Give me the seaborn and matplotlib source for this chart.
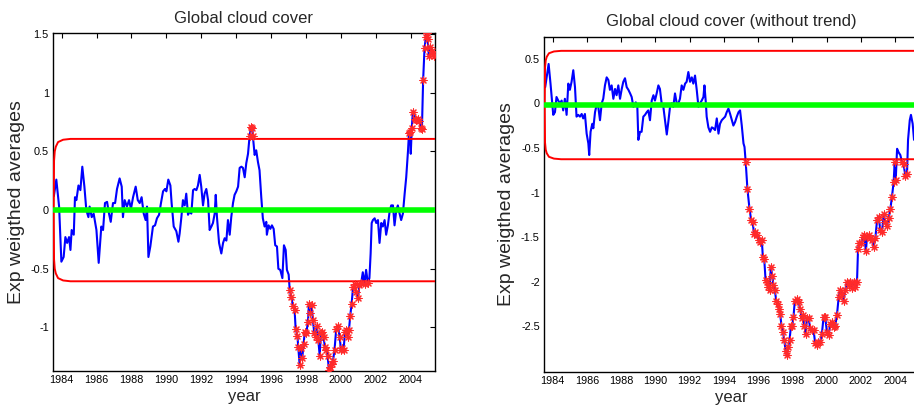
import numpy as np
import pandas as pd
import matplotlib
matplotlib.use("Agg")
import matplotlib.pyplot as plt
from matplotlib.ticker import FuncFormatter
import seaborn as sns

# ---------------- data ----------------
left_years = [1983.55, 1983.69, 1983.85, 1983.98, 1984.11, 1984.21, 1984.31, 1984.42, 1984.50, 1984.57,
              1984.69, 1984.76, 1984.84, 1984.96, 1985.07, 1985.18, 1985.30, 1985.41, 1985.53, 1985.60,
              1985.72, 1985.83, 1985.99, 1986.12, 1986.27, 1986.37, 1986.48, 1986.60, 1986.71, 1986.81,
              1986.94, 1987.06, 1987.17, 1987.32, 1987.44, 1987.51, 1987.61, 1987.74, 1987.86, 1987.97,
              1988.09, 1988.24, 1988.36, 1988.47, 1988.58, 1988.70, 1988.81, 1988.89, 1988.97, 1989.08,
              1989.23, 1989.35, 1989.46, 1989.58, 1989.69, 1989.81, 1989.92, 1990.00, 1990.11, 1990.23,
              1990.30, 1990.42, 1990.57, 1990.69, 1990.76, 1990.86, 1990.95, 1991.05, 1991.14, 1991.24,
              1991.34, 1991.43, 1991.53, 1991.62, 1991.72, 1991.81, 1991.91, 1992.00, 1992.10, 1992.19,
              1992.29, 1992.39, 1992.48, 1992.58, 1992.67, 1992.77, 1992.83, 1992.90, 1993.02, 1993.15,
              1993.25, 1993.34, 1993.44, 1993.53, 1993.63, 1993.72, 1993.82, 1993.91, 1994.01, 1994.11,
              1994.20, 1994.30, 1994.39, 1994.49, 1994.58, 1994.68, 1994.77, 1994.85, 1994.93, 1994.96,
              1995.06, 1995.15, 1995.25, 1995.34, 1995.44, 1995.53, 1995.63, 1995.73, 1995.76, 1995.86,
              1995.96, 1996.05, 1996.15, 1996.24, 1996.34, 1996.42, 1996.53, 1996.65, 1996.74, 1996.84,
              1996.91, 1997.01, 1997.07, 1997.16, 1997.26, 1997.35, 1997.41, 1997.51, 1997.56, 1997.64,
              1997.73, 1997.79, 1997.87, 1997.93, 1998.02, 1998.12, 1998.17, 1998.25, 1998.33, 1998.40,
              1998.48, 1998.56, 1998.63, 1998.71, 1998.79, 1998.86, 1998.94, 1999.01, 1999.09, 1999.17,
              1999.24, 1999.32, 1999.40, 1999.47, 1999.55, 1999.64, 1999.74, 1999.84, 1999.93, 2000.01,
              2000.08, 2000.16, 2000.24, 2000.31, 2000.39, 2000.47, 2000.54, 2000.62, 2000.70, 2000.79,
              2000.88, 2000.98, 2001.07, 2001.17, 2001.26, 2001.36, 2001.45, 2001.55, 2001.64, 2001.71,
              2001.77, 2001.84, 2001.94, 2002.03, 2002.13, 2002.22, 2002.32, 2002.41, 2002.51, 2002.60,
              2002.70, 2002.80, 2002.89, 2002.99, 2003.08, 2003.18, 2003.27, 2003.37, 2003.46, 2003.56,
              2003.66, 2003.75, 2003.85, 2003.91, 2003.96, 2004.01, 2004.07, 2004.13, 2004.23, 2004.32,
              2004.42, 2004.50, 2004.57, 2004.65, 2004.72, 2004.80, 2004.88, 2004.92, 2004.98, 2005.05,
              2005.13, 2005.20, 2005.27, 2005.35]
left_values = [0.12, 0.26, 0.03, -0.44, -0.40, -0.23, -0.28, -0.23, -0.34, -0.17,
               -0.21, 0.11, 0.085, 0.21, 0.17, 0.37, 0.20, 0.0, -0.06, 0.03,
               -0.06, -0.03, -0.17, -0.45, -0.14, -0.17, 0.06, 0.07, -0.03, -0.10,
               0.06, 0.06, 0.18, 0.27, 0.20, -0.06, 0.085, 0.03, 0.085, 0.01,
               0.11, 0.20, 0.085, 0.06, 0.11, -0.03, -0.085, 0.03, -0.40, -0.31,
               -0.14, -0.13, -0.07, -0.04, 0.06, 0.16, 0.18, 0.16, 0.26, 0.21,
               0.06, -0.14, -0.18, -0.27, -0.20, -0.06, 0.085, 0.04, 0.14, -0.04,
               -0.01, -0.03, 0.17, 0.18, 0.17, 0.21, 0.30, 0.20, 0.04, 0.14,
               0.18, 0.085, -0.17, -0.14, -0.11, -0.03, 0.13, -0.06, -0.28, -0.37,
               -0.28, -0.24, -0.26, -0.085, -0.21, -0.06, 0.06, 0.13, 0.16, 0.20,
               0.36, 0.37, 0.36, 0.28, 0.40, 0.48, 0.63, 0.71, 0.70, 0.63,
               0.47, 0.51, 0.41, 0.34, 0.11, -0.07, -0.14, -0.10, -0.21, -0.13,
               -0.16, -0.13, -0.16, -0.30, -0.31, -0.50, -0.51, -0.58, -0.30, -0.34,
               -0.51, -0.55, -0.68, -0.74, -0.82, -0.85, -1.01, -1.07, -1.17, -1.32,
               -1.18, -1.26, -1.14, -1.04, -1.05, -0.95, -0.80, -0.88, -0.81, -0.94,
               -1.05, -1.08, -0.99, -1.11, -1.24, -1.05, -1.04, -1.08, -1.17, -1.19,
               -1.24, -1.36, -1.34, -1.31, -1.29, -1.19, -1.01, -0.99, -1.08, -1.19,
               -1.18, -1.19, -1.04, -1.02, -1.08, -1.02, -0.90, -0.80, -0.66, -0.63,
               -0.70, -0.75, -0.64, -0.62, -0.53, -0.63, -0.51, -0.62, -0.58, -0.37,
               -0.11, -0.085, -0.07, -0.11, -0.085, -0.28, -0.11, -0.14, -0.085, -0.21,
               -0.13, -0.01, 0.04, 0.04, -0.13, 0.0, 0.04, -0.03, -0.085, -0.03,
               0.14, 0.28, 0.50, 0.66, 0.67, 0.48, 0.70, 0.84, 0.78, 0.77,
               0.78, 0.76, 0.70, 0.69, 1.11, 1.38, 1.48, 1.51, 1.46, 1.31,
               1.39, 1.36, 1.33, 1.31]

right_years = [1983.57, 1983.77, 1983.88, 1984.04, 1984.14, 1984.23, 1984.33, 1984.43, 1984.53, 1984.62,
               1984.72, 1984.82, 1984.92, 1985.01, 1985.11, 1985.21, 1985.31, 1985.40, 1985.50, 1985.60,
               1985.70, 1985.79, 1985.89, 1985.99, 1986.09, 1986.14, 1986.22, 1986.32, 1986.38, 1986.48,
               1986.57, 1986.67, 1986.77, 1986.87, 1986.96, 1987.06, 1987.16, 1987.26, 1987.35, 1987.45,
               1987.55, 1987.65, 1987.74, 1987.84, 1987.94, 1988.04, 1988.13, 1988.23, 1988.33, 1988.43,
               1988.53, 1988.62, 1988.72, 1988.86, 1988.95, 1989.01, 1989.11, 1989.20, 1989.30, 1989.40,
               1989.50, 1989.59, 1989.69, 1989.79, 1989.89, 1989.98, 1990.08, 1990.18, 1990.27, 1990.37,
               1990.47, 1990.57, 1990.67, 1990.76, 1990.86, 1990.96, 1991.05, 1991.15, 1991.25, 1991.35,
               1991.44, 1991.54, 1991.64, 1991.74, 1991.83, 1991.93, 1992.03, 1992.13, 1992.22, 1992.32,
               1992.42, 1992.52, 1992.61, 1992.71, 1992.81, 1992.87, 1992.95, 1993.00, 1993.10, 1993.20,
               1993.30, 1993.39, 1993.49, 1993.59, 1993.69, 1993.78, 1993.88, 1993.98, 1994.08, 1994.17,
               1994.27, 1994.37, 1994.47, 1994.56, 1994.66, 1994.76, 1994.86, 1994.95, 1995.05, 1995.15,
               1995.21, 1995.28, 1995.38, 1995.50, 1995.60, 1995.68, 1995.77, 1995.85, 1995.93, 1996.03,
               1996.13, 1996.22, 1996.28, 1996.36, 1996.44, 1996.52, 1996.59, 1996.67, 1996.75, 1996.83,
               1996.90, 1996.98, 1997.06, 1997.14, 1997.22, 1997.29, 1997.37, 1997.45, 1997.53, 1997.61,
               1997.68, 1997.76, 1997.84, 1997.92, 1998.00, 1998.07, 1998.15, 1998.27, 1998.37, 1998.46,
               1998.54, 1998.62, 1998.70, 1998.78, 1998.85, 1998.95, 1999.05, 1999.15, 1999.24, 1999.34,
               1999.44, 1999.53, 1999.63, 1999.73, 1999.83, 1999.92, 2000.02, 2000.12, 2000.22, 2000.31,
               2000.41, 2000.51, 2000.61, 2000.71, 2000.80, 2000.90, 2001.00, 2001.09, 2001.19, 2001.29,
               2001.39, 2001.48, 2001.58, 2001.68, 2001.78, 2001.84, 2001.91, 2002.01, 2002.11, 2002.20,
               2002.30, 2002.36, 2002.46, 2002.56, 2002.65, 2002.75, 2002.85, 2002.95, 2003.04, 2003.14,
               2003.24, 2003.34, 2003.43, 2003.53, 2003.63, 2003.73, 2003.82, 2003.92, 2003.98, 2004.04,
               2004.12, 2004.21, 2004.31, 2004.41, 2004.50, 2004.60, 2004.70, 2004.76, 2004.86, 2004.93,
               2005.03, 2005.11]
right_values = [0.18, 0.44, 0.22, -0.13, -0.10, 0.07, 0.03, 0.0, 0.03, -0.08,
                0.05, -0.13, 0.22, 0.15, 0.24, 0.37, 0.18, -0.15, -0.13, -0.15,
                -0.12, -0.17, -0.12, -0.34, -0.45, -0.58, -0.32, -0.23, -0.28, -0.10,
                -0.02, -0.04, -0.19, 0.0, 0.05, 0.20, 0.29, 0.26, 0.15, 0.20,
                0.05, 0.16, 0.09, 0.20, 0.05, 0.16, 0.24, 0.28, 0.18, 0.15,
                0.11, 0.07, -0.04, 0.01, -0.04, -0.41, -0.32, -0.32, -0.15, -0.13,
                -0.10, -0.08, -0.19, 0.03, 0.09, 0.03, 0.11, 0.20, 0.16, 0.0,
                -0.04, -0.20, -0.35, -0.21, -0.04, 0.0, -0.04, 0.11, 0.0, 0.0,
                0.05, 0.20, 0.15, 0.22, 0.24, 0.35, 0.24, 0.29, 0.22, 0.31,
                0.15, -0.04, 0.0, 0.03, 0.07, 0.20, 0.01, -0.15, -0.27, -0.32,
                -0.27, -0.28, -0.30, -0.17, -0.34, -0.23, -0.19, -0.17, -0.15, -0.10,
                -0.06, -0.12, -0.19, -0.25, -0.21, -0.15, -0.10, -0.08, -0.25, -0.45,
                -0.49, -0.66, -0.96, -1.18, -1.31, -1.33, -1.46, -1.44, -1.48, -1.53,
                -1.55, -1.53, -1.72, -1.74, -1.98, -2.00, -2.06, -2.09, -1.83, -1.93,
                -2.04, -2.09, -2.21, -2.25, -2.30, -2.36, -2.49, -2.56, -2.65, -2.77,
                -2.82, -2.73, -2.65, -2.50, -2.49, -2.39, -2.21, -2.19, -2.23, -2.30,
                -2.41, -2.37, -2.49, -2.58, -2.41, -2.41, -2.52, -2.54, -2.54, -2.69,
                -2.71, -2.67, -2.67, -2.58, -2.39, -2.39, -2.56, -2.60, -2.47, -2.45,
                -2.51, -2.49, -2.37, -2.17, -2.09, -2.14, -2.21, -2.09, -2.00, -2.04,
                -2.00, -2.07, -2.00, -2.06, -2.00, -1.63, -1.57, -1.57, -1.50, -1.48,
                -1.66, -1.50, -1.48, -1.51, -1.53, -1.61, -1.51, -1.31, -1.27, -1.42,
                -1.44, -1.24, -1.33, -1.37, -1.29, -1.18, -1.05, -0.88, -0.66, -0.86,
                -0.51, -0.55, -0.58, -0.66, -0.68, -0.81, -0.79, -0.41, -0.19, -0.13,
                -0.23, -0.41]

# control-limit half-width (starts at the first sample)
limit_years = [1983.54, 1983.56, 1983.60, 1983.66, 1983.79, 1984.08, 1984.50, 2005.40]
limit_offsets = [0.0, 0.42, 0.50, 0.54, 0.58, 0.60, 0.607, 0.607]

left_center = 0.0
right_center = -0.02

left_title = "Global cloud cover"
right_title = "Global cloud cover (without trend)"
x_label = "year"
y_label = "Exp weigthed averages"
x_ticks = [1984, 1986, 1988, 1990, 1992, 1994, 1996, 1998, 2000, 2002, 2004]
left_yticks = [-1, -0.5, 0, 0.5, 1, 1.5]
right_yticks = [-2.5, -2, -1.5, -1, -0.5, 0, 0.5]

# ---------------- style ----------------
sns.set_style("white")
plt.rcParams['font.family'] = ['Liberation Sans', 'DejaVu Sans']

fig = plt.figure(figsize=(9.14, 4.13), dpi=100)
W, H = 914.0, 413.0
ax1 = fig.add_axes([53 / W, (H - 371) / H, 382 / W, 338 / H])
ax2 = fig.add_axes([544 / W, (H - 372) / H, 375 / W, 335 / H])

star = (8, 2, 0)


def draw(ax, years, values, center, title, ylim, yticks, title_pad):
    df = pd.DataFrame({"year": years, "value": values})
    lim = pd.DataFrame({"year": limit_years, "off": limit_offsets})
    lim["upper"] = center + lim["off"]
    lim["lower"] = center - lim["off"]
    cen = pd.DataFrame({"year": [limit_years[0], limit_years[-1]], "c": [center, center]})

    sns.lineplot(data=df, x="year", y="value", ax=ax, color="#0000ff", lw=1.5,
                 estimator=None, sort=False, zorder=2)
    sns.lineplot(data=lim, x="year", y="upper", ax=ax, color="#ff0000", lw=1.4,
                 estimator=None, sort=False, zorder=3)
    sns.lineplot(data=lim, x="year", y="lower", ax=ax, color="#ff0000", lw=1.4,
                 estimator=None, sort=False, zorder=3)
    sns.lineplot(data=cen, x="year", y="c", ax=ax, color="#00ff00", lw=4.0,
                 estimator=None, sort=False, zorder=4)

    half = np.interp(df["year"], limit_years, limit_offsets)
    out = df[(df["value"] - center).abs() > half]
    sns.scatterplot(data=out, x="year", y="value", ax=ax, marker=star, s=26,
                    color="#ff2a2a", edgecolor="#ff2a2a", linewidth=0.8, zorder=5)

    ax.set_xlim(1983.5, 2005.4)
    ax.set_ylim(*ylim)
    ax.set_xticks(x_ticks)
    ax.set_yticks(yticks)
    ax.yaxis.set_major_formatter(FuncFormatter(lambda v, p: "%g" % v))
    ax.tick_params(direction="in", length=3.4, width=0.8, top=True, right=True,
                   labelsize=7.8, colors="black", pad=3)
    ax.set_xlabel(x_label, fontsize=12, labelpad=3)
    ax.set_ylabel(y_label, fontsize=14, labelpad=4)
    ax.set_title(title, fontsize=12, pad=title_pad)
    for s in ax.spines.values():
        s.set_color("black")
        s.set_linewidth(1.0)
        s.set_visible(True)


draw(ax1, left_years, left_values, left_center, left_title, (-1.372, 1.51), left_yticks, 7)
draw(ax2, right_years, right_values, right_center, right_title, (-3.01, 0.742), right_yticks, 8)

fig.savefig("out.png", dpi=100)
